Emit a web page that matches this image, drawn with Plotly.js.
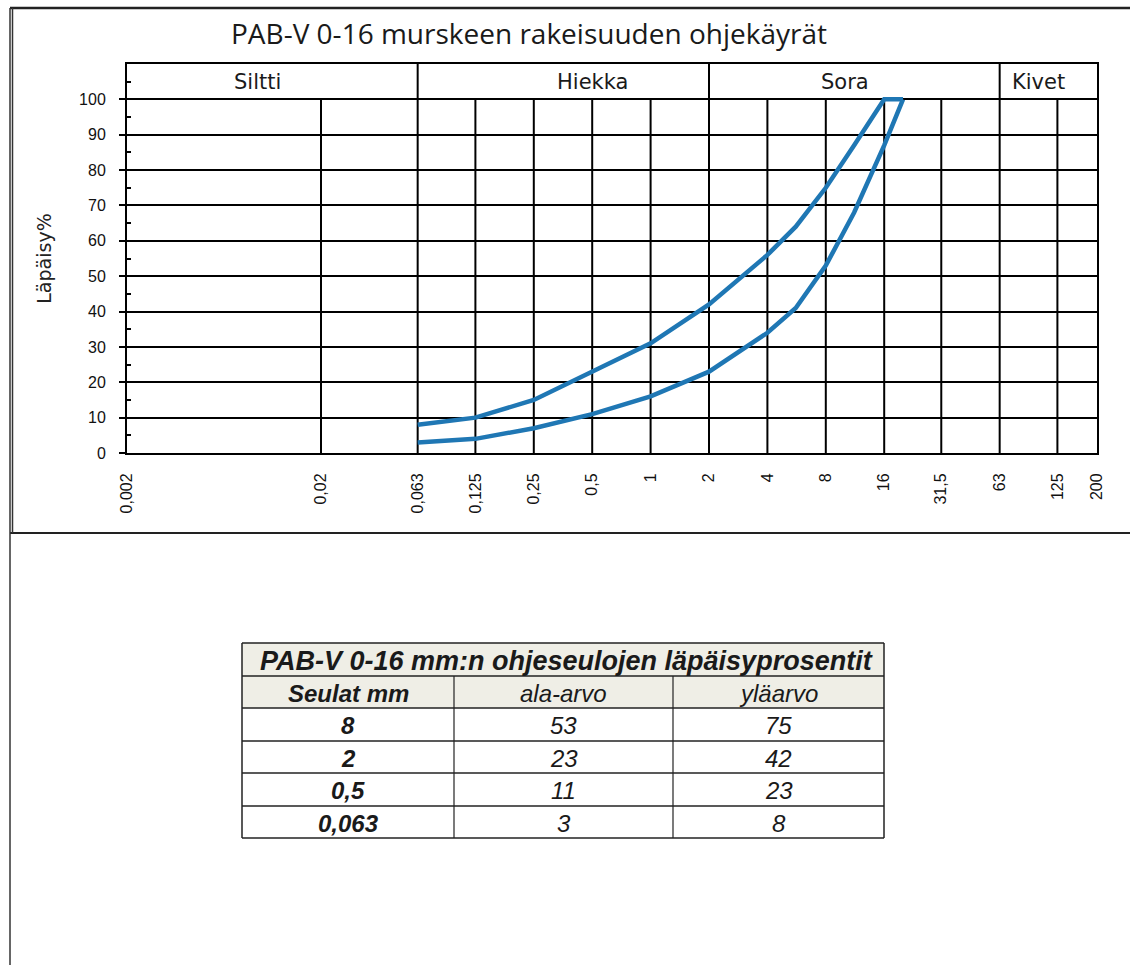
<!DOCTYPE html>
<html>
<head>
<meta charset="utf-8">
<script src="https://cdn.plot.ly/plotly-3.0.1.min.js"></script>
<style>html,body{margin:0;padding:0;background:#fff;}#chart{width:1130px;height:965px;}</style>
</head>
<body>
<div id="chart"></div>
<script>
// ---- data ----
const sieves = [0.002, 0.02, 0.063, 0.125, 0.25, 0.5, 1, 2, 4, 8, 16, 31.5, 63, 125, 200];
const sieveLabels = ['0,002', '0,02', '0,063', '0,125', '0,25', '0,5', '1', '2', '4', '8', '16', '31,5', '63', '125', '200'];
const yTicks = [0, 10, 20, 30, 40, 50, 60, 70, 80, 90, 100];
const yMinorTicks = [5, 15, 25, 35, 45, 55, 65, 75, 85, 95, 105];
const upperX = [0.063, 0.125, 0.25, 0.5, 1, 2, 4, 5.6, 8, 11.2, 16, 20];
const upperY = [8, 10, 15, 23, 31, 42, 56, 64, 75, 87, 100, 100];
const lowerX = [0.063, 0.125, 0.25, 0.5, 1, 2, 4, 5.6, 8, 11.2, 16, 20];
const lowerY = [3, 4, 7, 11, 16, 23, 34, 41, 53, 68, 87, 100];
const bandNames = ['Siltti', 'Hiekka', 'Sora', 'Kivet'];
const bandLabelX = [0.0094, 0.5, 10, 100];
const bandDividers = [0.063, 2, 63];
const chartTitle = 'PAB-V 0-16 murskeen rakeisuuden ohjekäyrät';
const yTitle = 'Läpäisy%';
const tableTitle = 'PAB-V 0-16 mm:n ohjeseulojen läpäisyprosentit';
const tableHeader = ['Seulat mm', 'ala-arvo', 'yläarvo'];
const tableSieves = ['8', '2', '0,5', '0,063'];
const tableLower = [53, 23, 11, 3];
const tableUpper = [75, 42, 23, 8];

// ---- helpers (pixel -> paper) ----
const W = 1130, H = 965;
const px = x => x / W;
const py = y => 1 - y / H;

// vertical grid lines (inside chart body, 0..100)
const gx = [], gy = [];
sieves.slice(1, -1).forEach(v => { gx.push(v, v, null); gy.push(0, 100, null); });
const bx = [], by = [];
bandDividers.forEach(v => { bx.push(v, v, null); by.push(100, 110, null); });

const traces = [
  {x: gx, y: gy, mode: 'lines', line: {color: '#000', width: 2}, hoverinfo: 'skip', showlegend: false},
  {x: bx, y: by, mode: 'lines', line: {color: '#000', width: 2}, hoverinfo: 'skip', showlegend: false},
  {x: upperX, y: upperY, name: 'yläarvo', mode: 'lines', line: {color: '#1f77b4', width: 4.5}, showlegend: false},
  {x: lowerX, y: lowerY, name: 'ala-arvo', mode: 'lines', line: {color: '#1f77b4', width: 4.5}, showlegend: false}
];

const shapes = [];
const annotations = [];

// outer frame
shapes.push({type: 'line', xref: 'paper', yref: 'paper', x0: px(10), x1: px(1130), y0: py(8), y1: py(8), line: {color: '#222', width: 2.5}});
shapes.push({type: 'line', xref: 'paper', yref: 'paper', x0: px(10), x1: px(1130), y0: py(533), y1: py(533), line: {color: '#222', width: 2}});
shapes.push({type: 'line', xref: 'paper', yref: 'paper', x0: px(10), x1: px(10), y0: py(8), y1: py(965), line: {color: '#333', width: 1.5}});
shapes.push({type: 'line', xref: 'paper', yref: 'paper', x0: px(12.5), x1: px(12.5), y0: py(8), y1: py(533), line: {color: '#333', width: 1.5}});

// title
annotations.push({xref: 'paper', yref: 'paper', x: px(529), y: py(33), text: chartTitle, showarrow: false,
  xanchor: 'center', yanchor: 'middle', font: {family: 'Open Sans', size: 28, color: '#1a1a1a'}});

// band labels
bandNames.forEach((n, i) => {
  annotations.push({xref: 'x', yref: 'y', x: Math.log10(bandLabelX[i]), y: 105, text: n, showarrow: false,
    xanchor: 'center', yanchor: 'middle', font: {family: 'DejaVu Sans', size: 21, color: '#1a1a1a'}});
});

// table
const colX = [242, 454, 673, 884];
const rowY = [643, 676, 708, 741, 773, 806, 838];
const fillTop = '#efeee6';
shapes.push({type: 'rect', xref: 'paper', yref: 'paper', x0: px(colX[0]), x1: px(colX[3]), y0: py(rowY[0]), y1: py(rowY[2]),
  fillcolor: fillTop, line: {width: 0}, layer: 'below'});
for (let r = 0; r < rowY.length; r++) {
  shapes.push({type: 'line', xref: 'paper', yref: 'paper', x0: px(colX[0]), x1: px(colX[3]), y0: py(rowY[r]), y1: py(rowY[r]),
    line: {color: '#222', width: 1.5}});
}
shapes.push({type: 'line', xref: 'paper', yref: 'paper', x0: px(colX[0]), x1: px(colX[0]), y0: py(rowY[0]), y1: py(rowY[6]), line: {color: '#222', width: 1.5}});
shapes.push({type: 'line', xref: 'paper', yref: 'paper', x0: px(colX[3]), x1: px(colX[3]), y0: py(rowY[0]), y1: py(rowY[6]), line: {color: '#222', width: 1.5}});
[1, 2].forEach(c => {
  shapes.push({type: 'line', xref: 'paper', yref: 'paper', x0: px(colX[c]), x1: px(colX[c]), y0: py(rowY[1]), y1: py(rowY[6]), line: {color: '#222', width: 1.2}});
});
const tfont = {family: 'Liberation Sans, Arial', size: 24, color: '#1a1a1a'};
const cellText = (t, c, r, bold) => annotations.push({xref: 'paper', yref: 'paper',
  x: px((colX[c] + colX[c + 1]) / 2), y: py((rowY[r] + rowY[r + 1]) / 2 + 1),
  text: bold ? '<b><i>' + t + '</i></b>' : '<i>' + t + '</i>', showarrow: false, xanchor: 'center', yanchor: 'middle', font: tfont});
annotations.push({xref: 'paper', yref: 'paper', x: px((colX[0] + colX[3]) / 2 + 3), y: py((rowY[0] + rowY[1]) / 2 + 1),
  text: '<b><i>' + tableTitle + '</i></b>', showarrow: false, xanchor: 'center', yanchor: 'middle',
  font: {family: 'Liberation Sans, Arial', size: 27, color: '#1a1a1a'}});
cellText(tableHeader[0], 0, 1, true);
cellText(tableHeader[1], 1, 1, false);
cellText(tableHeader[2], 2, 1, false);
tableSieves.forEach((s, i) => {
  cellText(s, 0, 2 + i, true);
  cellText(String(tableLower[i]), 1, 2 + i, false);
  cellText(String(tableUpper[i]), 2, 2 + i, false);
});

const layout = {
  width: W, height: H,
  margin: {l: 0, r: 0, t: 0, b: 0, pad: 0},
  paper_bgcolor: '#fff', plot_bgcolor: '#fff',
  showlegend: false,
  xaxis: {
    type: 'log', domain: [px(127), px(1097)],
    range: [Math.log10(0.002), Math.log10(200)], autorange: false,
    tickmode: 'array', tickvals: sieves, ticktext: sieveLabels, tickangle: -90,
    ticks: '', showgrid: false, zeroline: false,
    showline: true, linecolor: '#000', linewidth: 2, mirror: true,
    ticklabelstandoff: 12, automargin: false,
    tickfont: {family: 'Liberation Sans, Arial', size: 16, color: '#111'}
  },
  yaxis: {
    domain: [py(453), py(64)], range: [0, 110], autorange: false,
    tickmode: 'array', tickvals: yTicks,
    ticks: 'outside', ticklen: 6, tickwidth: 2, tickcolor: '#000',
    minor: {tickmode: 'array', tickvals: yMinorTicks, ticks: 'inside', ticklen: 4, tickwidth: 2, tickcolor: '#000', showgrid: false},
    showgrid: true, gridcolor: '#000', gridwidth: 2, zeroline: false,
    showline: true, linecolor: '#000', linewidth: 2, mirror: true,
    ticklabelstandoff: 10, automargin: false,
    tickfont: {family: 'Liberation Sans, Arial', size: 16, color: '#111'},
    title: {text: yTitle, standoff: 22, font: {family: 'DejaVu Sans', size: 19, color: '#222'}}
  },
  shapes: shapes,
  annotations: annotations
};

Plotly.newPlot('chart', traces, layout, {staticPlot: true, displayModeBar: false});
</script>
</body>
</html>
